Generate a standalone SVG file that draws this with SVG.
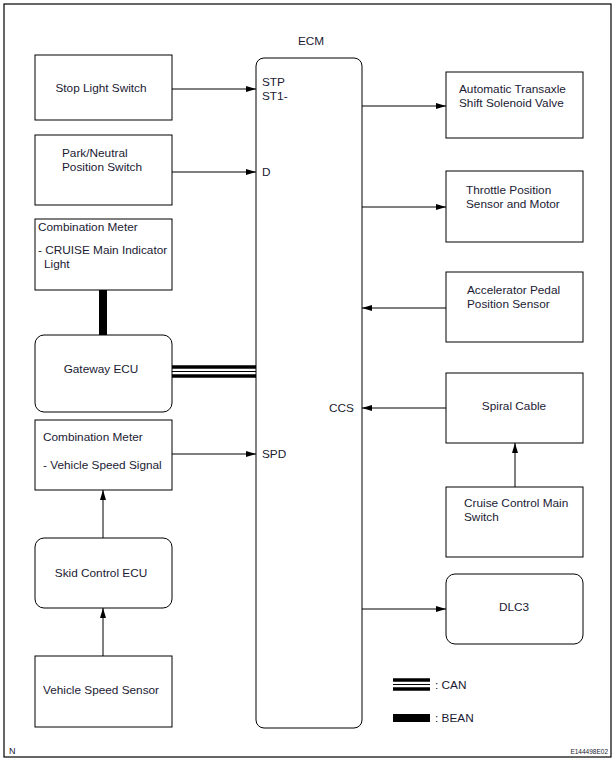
<svg xmlns="http://www.w3.org/2000/svg" width="616" height="763" viewBox="0 0 616 763">
<defs>
<marker id="ah" viewBox="0 0 10 6" refX="10" refY="3" markerWidth="10" markerHeight="6" markerUnits="userSpaceOnUse" orient="auto">
<path d="M0,0 L10,3 L0,6 z" fill="#000"/>
</marker>
</defs>
<style>
.box{fill:#fff;stroke:#000;stroke-width:1}
.t{font-family:"Liberation Sans",Arial,sans-serif;font-size:11.8px;fill:#1a1a33}
.c{text-anchor:middle}
.ln{stroke:#000;stroke-width:1;fill:none;marker-end:url(#ah)}
</style>
<rect x="0" y="0" width="616" height="763" fill="#fff"/>
<rect x="4" y="4" width="607" height="753" fill="none" stroke="#000" stroke-width="1.2"/>

<g id="ecm">
<text class="t c" x="311" y="45">ECM</text>
<rect class="box" x="256" y="58" width="106" height="670" rx="8"/>
<text class="t" x="262" y="86">STP</text>
<text class="t" x="262" y="100">ST1-</text>
<text class="t" x="262" y="176">D</text>
<text class="t" x="262" y="458">SPD</text>
<text class="t" x="329" y="412">CCS</text>
</g>

<g id="stop-light-switch">
<rect class="box" x="35" y="55" width="137" height="65"/>
<text class="t c" x="101" y="92">Stop Light Switch</text>
</g>
<g id="park-neutral">
<rect class="box" x="35" y="135" width="137" height="70"/>
<text class="t" x="62" y="157">Park/Neutral</text>
<text class="t" x="62" y="171">Position Switch</text>
</g>
<g id="combination-meter-1">
<rect class="box" x="35" y="219" width="137" height="71"/>
<text class="t" x="38" y="231">Combination Meter</text>
<text class="t" x="38" y="254">- CRUISE Main Indicator</text>
<text class="t" x="44" y="268">Light</text>
</g>
<g id="gateway-ecu">
<rect class="box" x="35" y="335" width="137" height="77" rx="9"/>
<text class="t c" x="101" y="373">Gateway ECU</text>
</g>
<g id="combination-meter-2">
<rect class="box" x="35" y="420" width="137" height="70"/>
<text class="t" x="43" y="441">Combination Meter</text>
<text class="t" x="43" y="469">- Vehicle Speed Signal</text>
</g>
<g id="skid-control-ecu">
<rect class="box" x="35" y="538" width="137" height="70" rx="9"/>
<text class="t c" x="101" y="577">Skid Control ECU</text>
</g>
<g id="vehicle-speed-sensor">
<rect class="box" x="35" y="656" width="137" height="71"/>
<text class="t c" x="101" y="694">Vehicle Speed Sensor</text>
</g>

<g id="shift-solenoid">
<rect class="box" x="446" y="72" width="137" height="66"/>
<text class="t" x="459" y="93">Automatic Transaxle</text>
<text class="t" x="459" y="107">Shift Solenoid Valve</text>
</g>
<g id="throttle">
<rect class="box" x="446" y="171" width="137" height="71"/>
<text class="t" x="466" y="194">Throttle Position</text>
<text class="t" x="466" y="208">Sensor and Motor</text>
</g>
<g id="accelerator">
<rect class="box" x="446" y="272" width="137" height="70"/>
<text class="t" x="467" y="294">Accelerator Pedal</text>
<text class="t" x="467" y="308">Position Sensor</text>
</g>
<g id="spiral-cable">
<rect class="box" x="446" y="373" width="137" height="70"/>
<text class="t c" x="514" y="410">Spiral Cable</text>
</g>
<g id="cruise-switch">
<rect class="box" x="446" y="487" width="137" height="70"/>
<text class="t" x="464" y="507">Cruise Control Main</text>
<text class="t" x="464" y="521">Switch</text>
</g>
<g id="dlc3">
<rect class="box" x="446" y="574" width="137" height="70" rx="9"/>
<text class="t c" x="514" y="611">DLC3</text>
</g>

<g id="connectors">
<line class="ln" x1="172" y1="89" x2="256" y2="89"/>
<line class="ln" x1="172" y1="172" x2="256" y2="172"/>
<line class="ln" x1="172" y1="454" x2="256" y2="454"/>
<line class="ln" x1="103" y1="538" x2="103" y2="490"/>
<line class="ln" x1="103" y1="656" x2="103" y2="608"/>
<line class="ln" x1="362" y1="106" x2="446" y2="106"/>
<line class="ln" x1="362" y1="207" x2="446" y2="207"/>
<line class="ln" x1="446" y1="308" x2="362" y2="308"/>
<line class="ln" x1="446" y1="408" x2="362" y2="408"/>
<line class="ln" x1="515" y1="487" x2="515" y2="443"/>
<line class="ln" x1="362" y1="609" x2="446" y2="609"/>
<line x1="103" y1="290" x2="103" y2="335" stroke="#000" stroke-width="8"/>
<g id="can-bus" stroke="#000">
<line x1="172" y1="367" x2="256" y2="367" stroke-width="3.5"/>
<line x1="172" y1="371.5" x2="256" y2="371.5" stroke-width="1"/>
<line x1="172" y1="376" x2="256" y2="376" stroke-width="3.5"/>
</g>
</g>

<g id="legend">
<line x1="393" y1="680" x2="430" y2="680" stroke="#000" stroke-width="3.5"/>
<line x1="393" y1="684.5" x2="430" y2="684.5" stroke="#000" stroke-width="1"/>
<line x1="393" y1="689" x2="430" y2="689" stroke="#000" stroke-width="3.5"/>
<text class="t" x="435" y="689">: CAN</text>
<line x1="393" y1="718" x2="430" y2="718" stroke="#000" stroke-width="8"/>
<text class="t" x="435" y="722">: BEAN</text>
</g>
<text class="t" x="9" y="754" style="font-size:9px">N</text>
<text class="t" x="608" y="754" style="font-size:6.5px;text-anchor:end">E144498E02</text>
</svg>
